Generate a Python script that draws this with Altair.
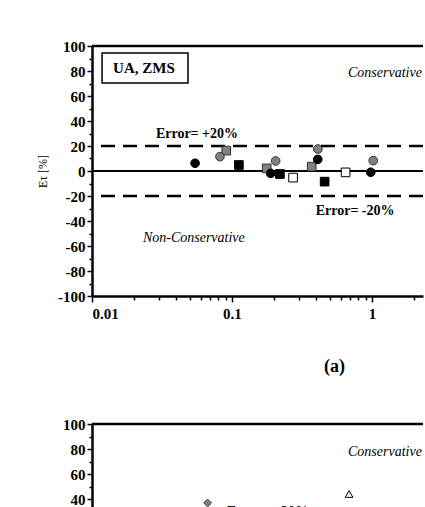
import altair as alt
import pandas as pd

# ---- panel (a): UA, ZMS ----
black_circle_x = [0.0545, 0.189, 0.41, 0.98]
black_circle_y = [6.2, -1.9, 9.3, -1.0]
grey_circle_x = [0.082, 0.205, 0.411, 1.02]
grey_circle_y = [11.5, 8.0, 17.6, 8.3]
grey_square_x = [0.091, 0.177, 0.371]
grey_square_y = [16.3, 2.1, 3.5]
black_square_x = [0.112, 0.22, 0.459]
black_square_y = [4.8, -2.4, -8.5]
open_square_x = [0.273, 0.648]
open_square_y = [-5.3, -1.1]

# ---- panel (b) ----
grey_diamond_x = [0.067]
grey_diamond_y = [36.8]
open_triangle_x = [0.686]
open_triangle_y = [44.0]
grey_triangle_x = [0.043]
grey_triangle_y = [31.0]

error_limits = [20, -20]

x_ticks = [0.01, 0.02, 0.03, 0.04, 0.05, 0.06, 0.07, 0.08, 0.09,
           0.1, 0.2, 0.3, 0.4, 0.5, 0.6, 0.7, 0.8, 0.9,
           1, 2]
y_ticks = list(range(-100, 101, 10))

SERIF = "Liberation Serif"
GREY = "#808080"

x_axis = alt.Axis(
    values=x_ticks,
    labelExpr="indexof([0.01, 0.1, 1, 10], datum.value) >= 0 ? datum.label : ''",
    format=".2~f",
    title=None,
    labelOverlap=False,
    labelFont=SERIF, labelFontSize=15, labelFontWeight="bold", labelColor="black",
    tickColor="black", tickWidth=1.5,
    tickSize={"condition": {"test": "indexof([0.01, 0.1, 1, 10], datum.value) >= 0",
                            "value": 6}, "value": 4},
    domainColor="black", domainWidth=2.5, grid=False, labelPadding=4,
)
y_axis = alt.Axis(
    values=y_ticks,
    labelExpr="datum.value % 20 == 0 ? '' + datum.value : ''",
    labelOverlap=False,
    title="E\u03c4 [%]",
    titleFont=SERIF, titleFontSize=12, titleFontWeight="normal", titleColor="black",
    titlePadding=8,
    labelFont=SERIF, labelFontSize=15, labelFontWeight="bold", labelColor="black",
    tickColor="black", tickWidth=1.5,
    tickSize={"condition": {"test": "datum.value % 20 == 0", "value": 5}, "value": 3},
    domainColor="black", domainWidth=2.5, grid=False, labelPadding=2,
)

x_scale = alt.Scale(type="log", domain=[0.01, 2.314])
y_scale = alt.Scale(domain=[-100, 100], nice=False)


def X(field="x"):
    return alt.X(f"{field}:Q", scale=x_scale, axis=x_axis)


def Y(field="y"):
    return alt.Y(f"{field}:Q", scale=y_scale, axis=y_axis)


def pts(xs, ys, shape, fill, stroke, size=75):
    df = pd.DataFrame({"x": xs, "y": ys})
    return alt.Chart(df).mark_point(
        shape=shape, filled=True, fill=fill, stroke=stroke, strokeWidth=1,
        size=size, opacity=1,
    ).encode(x=X(), y=Y())


def label(x, y, text, italic=False, bold=False, size=14):
    df = pd.DataFrame({"x": [x], "y": [y], "t": [text]})
    return alt.Chart(df).mark_text(
        align="left", baseline="alphabetic", font=SERIF, fontSize=size,
        fontStyle="italic" if italic else "normal",
        fontWeight="bold" if bold else "normal", color="black", clip=True,
    ).encode(x=X(), y=Y(), text="t:N")


def hline(values, **style):
    return alt.Chart(pd.DataFrame({"y": values})).mark_rule(color="black", **style).encode(y=Y())


def guide_lines():
    return [
        hline([0], strokeWidth=2),
        hline(error_limits, strokeWidth=2.5, strokeDash=[14, 8]),
        hline([100], strokeWidth=2.5),
    ]


# case box for panel (a)
box_df = pd.DataFrame({"x": [0.0118], "x2": [0.0485], "y": [94.4], "y2": [70.4]})
box = alt.Chart(box_df).mark_rect(fill="white", stroke="black", strokeWidth=1.5).encode(
    x=X(), x2="x2:Q", y=Y(), y2="y2:Q",
)
box_text = alt.Chart(pd.DataFrame({"x": [0.0235], "y": [82.4], "t": ["UA, ZMS"]})).mark_text(
    align="center", baseline="middle", font=SERIF, fontSize=15, fontWeight="bold", color="black",
).encode(x=X(), y=Y(), text="t:N")

panel_a = alt.layer(
    *guide_lines(),
    box, box_text,
    label(0.0286, 26.4, "Error= +20%", bold=True, size=14),
    label(0.396, -35.5, "Error= -20%", bold=True, size=14),
    label(0.674, 75.5, "Conservative", italic=True, size=14),
    label(0.0231, -56.5, "Non-Conservative", italic=True, size=14),
    pts(grey_square_x, grey_square_y, "square", GREY, "#333333"),
    pts(grey_circle_x, grey_circle_y, "circle", GREY, "#333333"),
    pts(black_circle_x, black_circle_y, "circle", "black", "black"),
    pts(black_square_x, black_square_y, "square", "black", "black"),
    pts(open_square_x, open_square_y, "square", "white", "black"),
).properties(
    width=331, height=250,
    title=alt.TitleParams("(a)", orient="bottom", font=SERIF, fontSize=18,
                          fontWeight="bold", color="black", anchor="start",
                          frame="group", dx=232, offset=37),
)

panel_b = alt.layer(
    *guide_lines(),
    label(0.092, 26.4, "Error= +20%", bold=True, size=14),
    label(0.674, 74.5, "Conservative", italic=True, size=14),
    pts(grey_triangle_x, grey_triangle_y, "triangle-up", GREY, "#333333", size=50),
    pts(grey_diamond_x, grey_diamond_y, "diamond", GREY, "#333333", size=60),
    pts(open_triangle_x, open_triangle_y, "triangle-up", "white", "black", size=60),
).properties(width=331, height=250)

chart = alt.vconcat(panel_a, panel_b, spacing=41).properties(
    padding={"left": 36, "top": 39, "right": 0, "bottom": 0},
    background="white",
).configure_view(stroke=None)

chart.save("out.html", embed_options={"renderer": "svg", "actions": False})
